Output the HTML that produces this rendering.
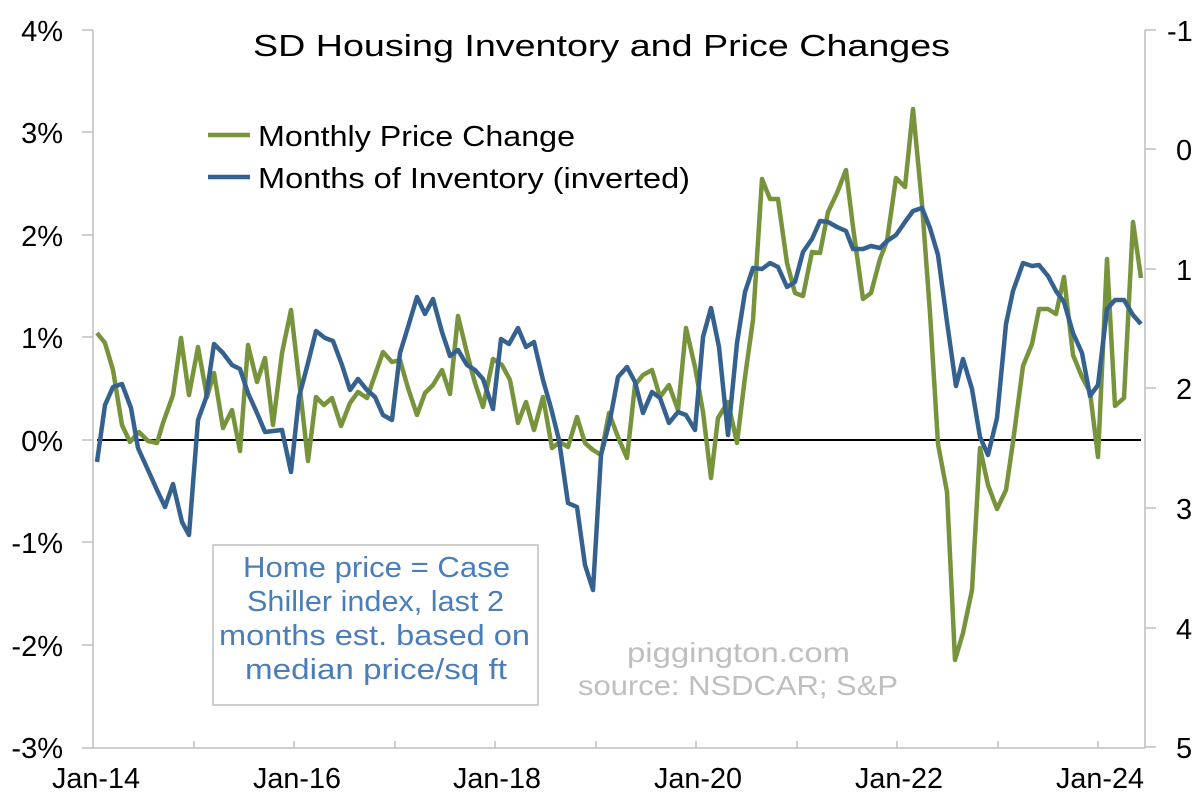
<!DOCTYPE html>
<html><head><meta charset="utf-8"><style>
html,body{margin:0;padding:0;background:#fff}
svg{display:block;font-family:"Liberation Sans",sans-serif}
</style></head><body>
<svg width="1200" height="801" viewBox="0 0 1200 801" xmlns="http://www.w3.org/2000/svg">
<rect width="1200" height="801" fill="#fff"/>
<g stroke="#bfbfbf" stroke-width="1.5" fill="none">
<line x1="93" y1="30" x2="93" y2="748"/>
<line x1="1145" y1="30" x2="1145" y2="748"/>
<line x1="82" y1="748" x2="1145" y2="748"/>
<line x1="82" y1="30" x2="93" y2="30"/><line x1="82" y1="132" x2="93" y2="132"/><line x1="82" y1="235" x2="93" y2="235"/><line x1="82" y1="337" x2="93" y2="337"/><line x1="82" y1="440" x2="93" y2="440"/><line x1="82" y1="542" x2="93" y2="542"/><line x1="82" y1="645" x2="93" y2="645"/>
<line x1="1145" y1="30" x2="1156" y2="30"/><line x1="1145" y1="149" x2="1156" y2="149"/><line x1="1145" y1="269" x2="1156" y2="269"/><line x1="1145" y1="388" x2="1156" y2="388"/><line x1="1145" y1="508" x2="1156" y2="508"/><line x1="1145" y1="628" x2="1156" y2="628"/><line x1="1145" y1="747" x2="1156" y2="747"/>
<line x1="194" y1="741" x2="194" y2="748"/><line x1="294" y1="741" x2="294" y2="748"/><line x1="395" y1="741" x2="395" y2="748"/><line x1="495" y1="741" x2="495" y2="748"/><line x1="596" y1="741" x2="596" y2="748"/><line x1="696" y1="741" x2="696" y2="748"/><line x1="797" y1="741" x2="797" y2="748"/><line x1="897" y1="741" x2="897" y2="748"/><line x1="998" y1="741" x2="998" y2="748"/><line x1="1098" y1="741" x2="1098" y2="748"/>
</g>
<line x1="97" y1="440" x2="1141" y2="440" stroke="#000" stroke-width="2"/>
<g font-size="29" fill="#000" text-anchor="end">
<text x="63" y="41">4%</text><text x="63" y="143">3%</text><text x="63" y="246">2%</text><text x="63" y="348">1%</text><text x="63" y="451">0%</text><text x="63" y="553">-1%</text><text x="63" y="656">-2%</text><text x="63" y="758">-3%</text>
</g>
<g font-size="29" fill="#000" text-anchor="start">
<text x="1167" y="41">-1</text><text x="1176" y="160">0</text><text x="1176" y="280">1</text><text x="1176" y="399">2</text><text x="1176" y="519">3</text><text x="1176" y="639">4</text><text x="1176" y="758">5</text>
</g>
<g font-size="29" fill="#000">
<text x="52" y="788" textLength="88" lengthAdjust="spacingAndGlyphs">Jan-14</text>
<text x="253" y="788" textLength="88" lengthAdjust="spacingAndGlyphs">Jan-16</text>
<text x="453" y="788" textLength="88" lengthAdjust="spacingAndGlyphs">Jan-18</text>
<text x="654" y="788" textLength="88" lengthAdjust="spacingAndGlyphs">Jan-20</text>
<text x="855" y="788" textLength="88" lengthAdjust="spacingAndGlyphs">Jan-22</text>
<text x="1056" y="788" textLength="88" lengthAdjust="spacingAndGlyphs">Jan-24</text>
</g>
<text x="253" y="56" font-size="31" fill="#000" textLength="697" lengthAdjust="spacingAndGlyphs">SD Housing Inventory and Price Changes</text>
<line x1="208" y1="135" x2="250" y2="135" stroke="#77933c" stroke-width="4.5"/>
<text x="258" y="146" font-size="29" fill="#000" textLength="317" lengthAdjust="spacingAndGlyphs">Monthly Price Change</text>
<line x1="208" y1="177" x2="250" y2="177" stroke="#35618f" stroke-width="4.5"/>
<text x="258" y="188" font-size="29" fill="#000" textLength="432" lengthAdjust="spacingAndGlyphs">Months of Inventory (inverted)</text>
<rect x="213" y="545" width="325" height="160" fill="#fff" stroke="#bfbfbf" stroke-width="1.5"/>
<g font-size="29" fill="#4a7ebb">
<text x="243" y="577" textLength="267" lengthAdjust="spacingAndGlyphs">Home price = Case</text>
<text x="247" y="611" textLength="257" lengthAdjust="spacingAndGlyphs">Shiller index, last 2</text>
<text x="219" y="645" textLength="311" lengthAdjust="spacingAndGlyphs">months est. based on</text>
<text x="245" y="679" textLength="262" lengthAdjust="spacingAndGlyphs">median price/sq ft</text>
</g>
<g font-size="28" fill="#bfbfbf">
<text x="627" y="662" textLength="223" lengthAdjust="spacingAndGlyphs">piggington.com</text>
<text x="578" y="695" textLength="320" lengthAdjust="spacingAndGlyphs">source: NSDCAR; S&amp;P</text>
</g>
<polyline fill="none" stroke="#77933c" stroke-width="4.5" stroke-linejoin="round" points="97,333 105,343 113,370 122,425 130,442 139,432 148,441 157,443 163,423 173,395 181,338 189,395 198,347 207,397 214,373 223,428 232,410 240,451 248,345 257,382 265,358 273,425 282,353 291,310 299,380 308,461 316,397 324,405 332,398 341,426 350,403 358,392 367,398 375,375 383,352 392,362 400,360 408,388 417,415 425,393 433,385 442,370 450,394 458,316 467,353 475,383 483,407 493,359 502,365 510,380 518,423 526,402 534,430 543,397 552,448 560,442 568,447 577,417 585,443 593,450 601,455 609,413 618,437 627,458 635,385 643,375 652,370 660,397 669,385 678,410 686,328 695,367 703,412 711,478 718,418 728,402 737,443 745,377 753,320 762,179 770,199 778,199 787,263 795,293 803,296 812,252 820,253 828,212 837,193 846,170 853,227 863,299 871,293 880,259 887,241 896,178 905,187 913,109 922,204 930,313 938,444 947,492 955,660 963,633 972,590 980,448 988,485 997,509 1006,490 1013,442 1023,366 1032,344 1039,309 1048,309 1056,314 1064,277 1073,355 1082,377 1090,392 1098,457 1107,259 1115,406 1124,398 1133,222 1141,278"/>
<polyline fill="none" stroke="#35618f" stroke-width="4.5" stroke-linejoin="round" points="97,462 105,405 113,387 122,384 131,408 138,448 148,470 157,490 165,507 173,484 182,522 189,535 198,420 206,398 214,344 223,353 232,365 240,369 248,393 257,413 265,432 273,431 282,430 291,472 299,397 308,363 316,331 325,338 333,341 342,365 350,390 358,379 367,390 375,397 383,415 392,420 400,353 408,327 417,297 425,314 433,299 442,332 450,356 458,350 467,365 475,370 483,379 493,409 501,339 509,344 518,328 526,347 534,342 543,380 551,408 559,440 568,503 577,507 585,565 593,590 601,455 610,420 618,377 627,367 635,382 643,413 652,392 660,398 669,423 678,412 686,415 695,430 703,337 711,308 719,347 728,435 737,343 745,292 753,268 762,269 770,263 778,267 787,287 795,282 803,252 812,239 820,221 828,222 837,227 846,231 853,249 863,249 871,246 880,248 887,241 896,235 905,222 913,211 922,208 930,228 938,255 947,322 956,386 963,359 972,389 980,437 988,455 997,418 1006,324 1013,291 1023,263 1032,266 1039,265 1048,276 1056,291 1064,302 1073,333 1082,353 1090,396 1098,385 1107,309 1115,300 1124,300 1133,315 1141,324"/>
</svg>
</body></html>
